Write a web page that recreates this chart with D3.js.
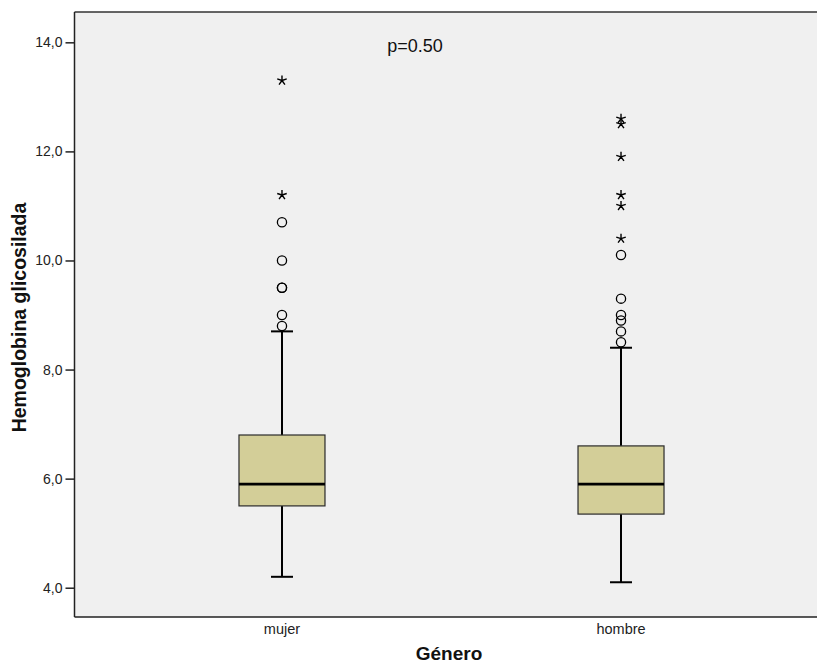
<!DOCTYPE html>
<html><head><meta charset="utf-8">
<script src="https://cdn.jsdelivr.net/npm/d3@7"></script>
<style>body{margin:0;background:#fff}svg{display:block}</style>
</head><body>
<svg id="c" width="817" height="666"></svg>
<script>
const categories = ["mujer", "hombre"];
const lowerWhisker = [4.2, 4.1];
const q1 = [5.5, 5.35];
const median = [5.9, 5.9];
const q3 = [6.8, 6.6];
const upperWhisker = [8.7, 8.4];
const circleOutliers = [
  [10.7, 10.0, 9.5, 9.5, 9.0, 8.8],
  [10.1, 9.3, 9.0, 8.9, 8.7, 8.5]
];
const starOutliers = [
  [13.3, 11.2],
  [12.6, 12.5, 11.9, 11.2, 11.0, 10.4]
];
const yTicks = [4, 6, 8, 10, 12, 14];
const pLabel = "p=0.50";
const xTitle = "Género";
const yTitle = "Hemoglobina glicosilada";

(function () {
const svg = d3.select("#c");
const pLeft = 74.5, pTop = 12, pBottom = 617, pRight = 817;
const y = d3.scaleLinear().domain([3.463, 14.556]).range([pBottom, pTop]);
const x = d3.scalePoint().domain(categories).range([pLeft, 828.5]).padding(0.612);
const font = "'Liberation Sans', Arial, sans-serif";

svg.append("rect").attr("x", pLeft).attr("y", pTop).attr("width", pRight - pLeft + 5).attr("height", pBottom - pTop)
  .attr("fill", "#f0f0f0");
svg.append("line").attr("x1", pLeft).attr("x2", pRight + 2).attr("y1", pTop).attr("y2", pTop).attr("stroke", "#333").attr("stroke-width", 1.5);
svg.append("line").attr("x1", pLeft).attr("x2", pRight + 2).attr("y1", pBottom).attr("y2", pBottom).attr("stroke", "#222").attr("stroke-width", 1.5);

const yAxis = d3.axisLeft(y).tickValues(yTicks).tickSize(9).tickPadding(3)
  .tickFormat(d => d3.format(".1f")(d).replace(".", ","));
const ga = svg.append("g").attr("transform", `translate(${pLeft},0)`).call(yAxis);
ga.select(".domain").attr("d", `M0,${pTop}V${pBottom}`).attr("stroke", "#222").attr("stroke-width", 1.5);
ga.selectAll(".tick line").attr("stroke", "#222").attr("stroke-width", 1.5);
ga.selectAll(".tick text").attr("font-family", font).attr("font-size", 14).attr("fill", "#222");

const boxW = 86, capW = 22;
categories.forEach((c, i) => {
  const cx = x(c);
  const g = svg.append("g");
  g.append("line").attr("x1", cx).attr("x2", cx).attr("y1", y(upperWhisker[i])).attr("y2", y(q3[i])).attr("stroke", "#000").attr("stroke-width", 2);
  g.append("line").attr("x1", cx).attr("x2", cx).attr("y1", y(q1[i])).attr("y2", y(lowerWhisker[i])).attr("stroke", "#000").attr("stroke-width", 2);
  [upperWhisker[i], lowerWhisker[i]].forEach(v => {
    g.append("line").attr("x1", cx - capW / 2).attr("x2", cx + capW / 2).attr("y1", y(v)).attr("y2", y(v)).attr("stroke", "#000").attr("stroke-width", 2);
  });
  g.append("rect").attr("x", cx - boxW / 2).attr("y", y(q3[i])).attr("width", boxW).attr("height", y(q1[i]) - y(q3[i]))
    .attr("fill", "#d3ce98").attr("stroke", "#2a2a2a").attr("stroke-width", 1.2);
  g.append("line").attr("x1", cx - boxW / 2).attr("x2", cx + boxW / 2).attr("y1", y(median[i])).attr("y2", y(median[i])).attr("stroke", "#000").attr("stroke-width", 2.8);
  circleOutliers[i].forEach(v => {
    g.append("circle").attr("cx", cx).attr("cy", y(v)).attr("r", 4.6).attr("fill", "none").attr("stroke", "#000").attr("stroke-width", 1.3);
  });
  starOutliers[i].forEach(v => {
    const r = 5;
    let d = "";
    for (let k = 0; k < 5; k++) {
      const a = (-90 + k * 72) * Math.PI / 180;
      d += `M${cx},${y(v)}L${cx + r * Math.cos(a)},${y(v) + r * Math.sin(a)}`;
    }
    g.append("path").attr("d", d).attr("stroke", "#000").attr("stroke-width", 1.4).attr("fill", "none");
  });
  svg.append("text").attr("x", cx).attr("y", 634).attr("text-anchor", "middle").attr("font-family", font).attr("font-size", 14.5).attr("fill", "#222").text(c);
});

svg.append("text").attr("x", 415).attr("y", 52).attr("text-anchor", "middle").attr("font-family", font).attr("font-size", 18).attr("fill", "#111").text(pLabel);
svg.append("text").attr("x", 449).attr("y", 660).attr("text-anchor", "middle").attr("font-family", font).attr("font-size", 19).attr("font-weight", "bold").attr("fill", "#111").text(xTitle);
svg.append("text").attr("transform", `translate(26,${(pTop + pBottom) / 2 + 3}) rotate(-90)`).attr("text-anchor", "middle").attr("font-family", font).attr("font-size", 19.5).attr("font-weight", "bold").attr("fill", "#111").text(yTitle);
})();
</script>
</body></html>
